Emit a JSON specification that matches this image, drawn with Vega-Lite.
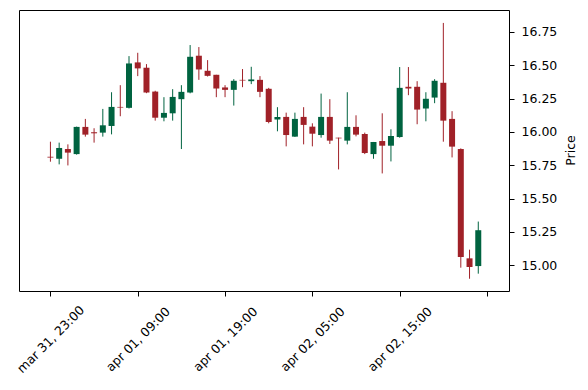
{
  "$schema": "https://vega.github.io/schema/vega-lite/v6.json",
  "autosize": {"type": "none"},
  "padding": {"left": 19, "top": 10, "right": 79, "bottom": 99},
  "width": 490,
  "height": 281,
  "background": "white",
  "config": {
    "font": "DejaVu Sans",
    "view": {"stroke": "black", "strokeWidth": 1},
    "axis": {"grid": false, "domain": false, "tickColor": "black", "tickSize": 5, "tickWidth": 1, "labelColor": "black", "labelFontSize": 12.5, "labelFont": "DejaVu Sans", "titleFont": "DejaVu Sans", "titleFontWeight": "normal", "titleColor": "black", "titleFontSize": 12.5}
  },
  "data": {"values": [
    {"idx": 0, "open": 15.814, "high": 15.927, "low": 15.777, "close": 15.808},
    {"idx": 1, "open": 15.799, "high": 15.920, "low": 15.757, "close": 15.880},
    {"idx": 2, "open": 15.872, "high": 15.907, "low": 15.749, "close": 15.845},
    {"idx": 3, "open": 15.834, "high": 16.040, "low": 15.830, "close": 16.038},
    {"idx": 4, "open": 16.038, "high": 16.098, "low": 15.965, "close": 15.980},
    {"idx": 5, "open": 15.998, "high": 16.028, "low": 15.920, "close": 15.990},
    {"idx": 6, "open": 15.995, "high": 16.173, "low": 15.965, "close": 16.050},
    {"idx": 7, "open": 16.045, "high": 16.298, "low": 15.982, "close": 16.188},
    {"idx": 8, "open": 16.188, "high": 16.351, "low": 16.118, "close": 16.183},
    {"idx": 9, "open": 16.181, "high": 16.569, "low": 16.176, "close": 16.514},
    {"idx": 10, "open": 16.522, "high": 16.594, "low": 16.419, "close": 16.477},
    {"idx": 11, "open": 16.482, "high": 16.509, "low": 16.291, "close": 16.296},
    {"idx": 12, "open": 16.303, "high": 16.309, "low": 16.085, "close": 16.107},
    {"idx": 13, "open": 16.107, "high": 16.261, "low": 16.080, "close": 16.143},
    {"idx": 14, "open": 16.140, "high": 16.321, "low": 16.085, "close": 16.263},
    {"idx": 15, "open": 16.246, "high": 16.351, "low": 15.872, "close": 16.301},
    {"idx": 16, "open": 16.296, "high": 16.652, "low": 16.290, "close": 16.564},
    {"idx": 17, "open": 16.572, "high": 16.637, "low": 16.391, "close": 16.469},
    {"idx": 18, "open": 16.459, "high": 16.539, "low": 16.416, "close": 16.421},
    {"idx": 19, "open": 16.429, "high": 16.429, "low": 16.261, "close": 16.326},
    {"idx": 20, "open": 16.334, "high": 16.351, "low": 16.261, "close": 16.316},
    {"idx": 21, "open": 16.316, "high": 16.396, "low": 16.198, "close": 16.384},
    {"idx": 22, "open": 16.391, "high": 16.472, "low": 16.336, "close": 16.386},
    {"idx": 23, "open": 16.381, "high": 16.489, "low": 16.359, "close": 16.394},
    {"idx": 24, "open": 16.391, "high": 16.419, "low": 16.261, "close": 16.301},
    {"idx": 25, "open": 16.324, "high": 16.331, "low": 16.065, "close": 16.075},
    {"idx": 26, "open": 16.093, "high": 16.186, "low": 16.005, "close": 16.113},
    {"idx": 27, "open": 16.113, "high": 16.145, "low": 15.892, "close": 15.977},
    {"idx": 28, "open": 15.965, "high": 16.145, "low": 15.963, "close": 16.098},
    {"idx": 29, "open": 16.113, "high": 16.186, "low": 15.907, "close": 16.053},
    {"idx": 30, "open": 16.040, "high": 16.065, "low": 15.892, "close": 15.987},
    {"idx": 31, "open": 15.977, "high": 16.288, "low": 15.957, "close": 16.113},
    {"idx": 32, "open": 16.113, "high": 16.246, "low": 15.910, "close": 15.935},
    {"idx": 33, "open": 15.957, "high": 15.957, "low": 15.719, "close": 15.952},
    {"idx": 34, "open": 15.935, "high": 16.298, "low": 15.907, "close": 16.038},
    {"idx": 35, "open": 16.038, "high": 16.125, "low": 15.967, "close": 15.980},
    {"idx": 36, "open": 15.985, "high": 15.995, "low": 15.834, "close": 15.842},
    {"idx": 37, "open": 15.834, "high": 15.925, "low": 15.799, "close": 15.925},
    {"idx": 38, "open": 15.932, "high": 16.140, "low": 15.689, "close": 15.897},
    {"idx": 39, "open": 15.897, "high": 16.020, "low": 15.779, "close": 15.970},
    {"idx": 40, "open": 15.962, "high": 16.487, "low": 15.957, "close": 16.331},
    {"idx": 41, "open": 16.339, "high": 16.487, "low": 16.276, "close": 16.326},
    {"idx": 42, "open": 16.339, "high": 16.381, "low": 16.058, "close": 16.168},
    {"idx": 43, "open": 16.176, "high": 16.298, "low": 16.080, "close": 16.249},
    {"idx": 44, "open": 16.258, "high": 16.396, "low": 16.216, "close": 16.384},
    {"idx": 45, "open": 16.369, "high": 16.818, "low": 15.927, "close": 16.085},
    {"idx": 46, "open": 16.098, "high": 16.156, "low": 15.809, "close": 15.890},
    {"idx": 47, "open": 15.872, "high": 15.877, "low": 14.982, "close": 15.062},
    {"idx": 48, "open": 15.052, "high": 15.117, "low": 14.899, "close": 14.987},
    {"idx": 49, "open": 14.994, "high": 15.328, "low": 14.937, "close": 15.263}
  ]},
  "encoding": {
    "x": {
      "field": "idx", "type": "quantitative",
      "scale": {"domain": [-3.6, 52.52], "nice": false, "zero": false, "padding": 0},
      "axis": {
        "title": null,
        "values": [0, 10, 20, 30, 40, 50],
        "labelExpr": "['mar 31, 23:00','apr 01, 09:00','apr 01, 19:00','apr 02, 05:00','apr 02, 15:00',''][round(datum.value/10)]",
        "labelAngle": -45,
        "labelAlign": "center",
        "labelBaseline": "middle",
        "labelPadding": 43,
        "labelDx": -2,
        "labelOverlap": false,
        "labelBound": false,
        "labelFlush": false
      }
    },
    "color": {
      "condition": {"test": "datum.close >= datum.open", "value": "#006340"},
      "value": "#A02128"
    }
  },
  "layer": [
    {
      "mark": {"type": "rule", "strokeWidth": 1},
      "encoding": {
        "y": {
          "field": "low", "type": "quantitative",
          "scale": {"domain": [14.807, 16.915], "nice": false, "zero": false, "padding": 0},
          "axis": {
            "orient": "right",
            "title": "Price",
            "values": [15.0, 15.25, 15.5, 15.75, 16.0, 16.25, 16.5, 16.75],
            "format": ".2f",
            "labelPadding": 7,
            "labelBaseline": "middle",
            "titleAngle": 270,
            "titleX": 61,
            "titleY": 140,
            "titleAlign": "center",
            "titleBaseline": "middle"
          }
        },
        "y2": {"field": "high"}
      }
    },
    {
      "mark": {"type": "bar", "size": 6},
      "encoding": {
        "y": {"field": "open", "type": "quantitative"},
        "y2": {"field": "close"}
      }
    }
  ]
}
